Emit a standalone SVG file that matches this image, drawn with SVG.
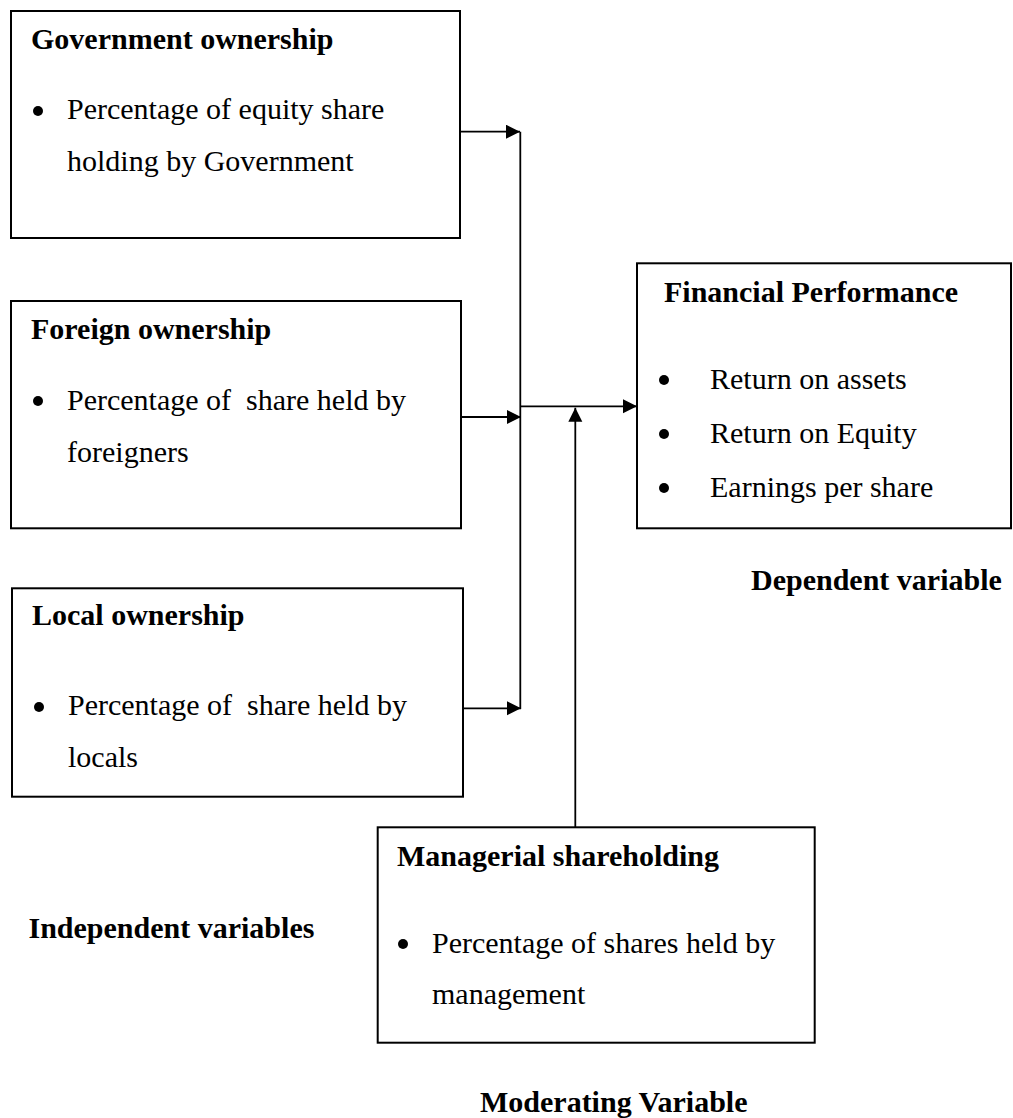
<svg xmlns="http://www.w3.org/2000/svg" width="1013" height="1118" viewBox="0 0 1013 1118">
<style>
.box{fill:#fff;stroke:#000;stroke-width:2}
.t{font-family:"Liberation Serif","Times New Roman",serif;font-size:30px;fill:#000;white-space:pre}
.b{font-weight:bold}
.c{fill:none;stroke:#000;stroke-width:1.8}
.dot{fill:#000}
</style>
<defs>
<marker id="ah" markerUnits="userSpaceOnUse" markerWidth="15" markerHeight="15" refX="14" refY="7" orient="auto">
<path d="M0,0 L14,7 L0,14 z" fill="#000"/>
</marker>
</defs>
<rect width="1013" height="1118" fill="#fff"/>
<g id="connectors">
<path class="c" d="M461,131.7 H520" marker-end="url(#ah)"/>
<path class="c" d="M520.3,131.7 V709"/>
<path class="c" d="M461,417 H521" marker-end="url(#ah)"/>
<path class="c" d="M463,708.3 H521" marker-end="url(#ah)"/>
<path class="c" d="M520,406.3 H637" marker-end="url(#ah)"/>
<path class="c" d="M575.3,827 V407.7" marker-end="url(#ah)"/>
</g>
<g id="government">
<rect class="box" x="11" y="11" width="449" height="227"/>
<text class="t b" x="31" y="49">Government ownership</text>
<circle class="dot" cx="38" cy="111" r="5"/>
<text class="t" x="67" y="119">Percentage of equity share</text>
<text class="t" x="67" y="171">holding by Government</text>
</g>
<g id="foreign">
<rect class="box" x="11" y="301" width="450" height="227.3"/>
<text class="t b" x="31" y="339">Foreign ownership</text>
<circle class="dot" cx="38" cy="401" r="5"/>
<text class="t" x="67" y="410">Percentage of  share held by</text>
<text class="t" x="67" y="462">foreigners</text>
</g>
<g id="local">
<rect class="box" x="12" y="588.3" width="451" height="208.4"/>
<text class="t b" x="32" y="625">Local ownership</text>
<circle class="dot" cx="39" cy="707" r="5"/>
<text class="t" x="68" y="715">Percentage of  share held by</text>
<text class="t" x="68" y="767">locals</text>
</g>
<g id="financial">
<rect class="box" x="637" y="263.3" width="374" height="265"/>
<text class="t b" x="664" y="302">Financial Performance</text>
<circle class="dot" cx="664" cy="380" r="5"/>
<text class="t" x="710" y="389">Return on assets</text>
<circle class="dot" cx="664" cy="434" r="5"/>
<text class="t" x="710" y="443">Return on Equity</text>
<circle class="dot" cx="664" cy="488" r="5"/>
<text class="t" x="710" y="497">Earnings per share</text>
</g>
<g id="managerial">
<rect class="box" x="377.7" y="827.3" width="437" height="215.4"/>
<text class="t b" x="397" y="866">Managerial shareholding</text>
<circle class="dot" cx="403" cy="944" r="5"/>
<text class="t" x="432" y="953">Percentage of shares held by</text>
<text class="t" x="432" y="1004">management</text>
</g>
<g id="labels">
<text class="t b" x="751" y="590">Dependent variable</text>
<text class="t b" x="28.5" y="938">Independent variables</text>
<text class="t b" x="480" y="1111.5">Moderating Variable</text>
</g>
</svg>
